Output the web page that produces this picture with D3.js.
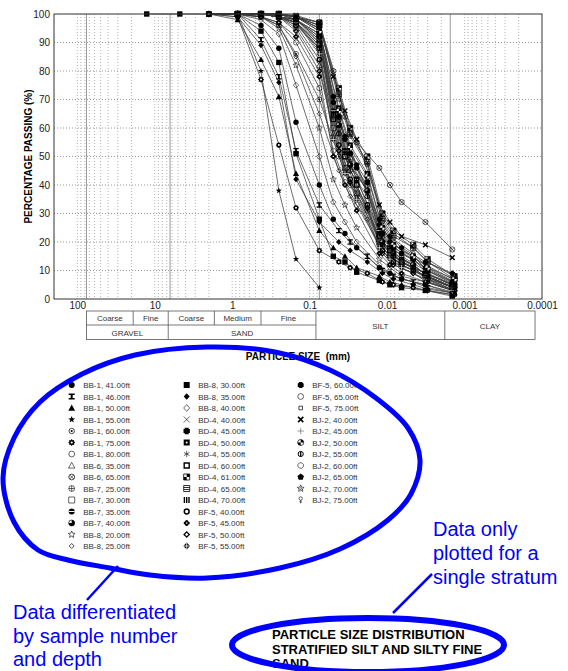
<!DOCTYPE html>
<html>
<head>
<meta charset="utf-8">
<script src="https://cdn.jsdelivr.net/npm/d3@7"></script>
<style>
body { margin: 0; background: #fff; }
text { font-family: "Liberation Sans", Arial, Helvetica, sans-serif; }
</style>
</head>
<body>
<script>
// ---- data ----
var sieveSizes = [12.7, 4.75, 2.0, 0.85, 0.425, 0.25, 0.15, 0.075];
var hydroSizesA = [0.0495, 0.035, 0.0247, 0.0126, 0.0092, 0.0065, 0.0032, 0.00144];
var hydroSizesB = [0.042, 0.030, 0.018, 0.0115, 0.0083, 0.0046, 0.0030, 0.00135];

var sampleNames = [
  "BB-1, 41.00ft", "BB-1, 46.00ft", "BB-1, 50.00ft", "BB-1, 55.00ft", "BB-1, 60.00ft",
  "BB-1, 75.00ft", "BB-1, 80.00ft", "BB-6, 35.00ft", "BB-6, 65.00ft", "BB-7, 25.00ft",
  "BB-7, 30.00ft", "BB-7, 35.00ft", "BB-7, 40.00ft", "BB-8, 20.00ft", "BB-8, 25.00ft",
  "BB-8, 30.00ft", "BB-8, 35.00ft", "BB-8, 40.00ft", "BD-4, 40.00ft", "BD-4, 45.00ft",
  "BD-4, 50.00ft", "BD-4, 55.00ft", "BD-4, 60.00ft", "BD-4, 61.00ft", "BD-4, 65.00ft",
  "BD-4, 70.00ft", "BF-5, 40.00ft", "BF-5, 45.00ft", "BF-5, 50.00ft", "BF-5, 55.00ft",
  "BF-5, 60.00ft", "BF-5, 65.00ft", "BF-5, 75.00ft", "BJ-2, 40.00ft", "BJ-2, 45.00ft",
  "BJ-2, 50.00ft", "BJ-2, 55.00ft", "BJ-2, 60.00ft", "BJ-2, 65.00ft", "BJ-2, 70.00ft",
  "BJ-2, 75.00ft"
];

var sampleSymbols = [
  "circleFill", "hourglass", "triangleFill", "starFill", "circleDot",
  "gear", "circleOpen", "triangleOpen", "circleX", "circlePlus",
  "squareOpen", "circleBar", "circlePie", "starOpen", "diamondSmall",
  "squareFill", "diamondFill", "diamondOpen", "xThin", "squareNotch",
  "squareDot", "asterisk", "squareBold", "squareChecker", "squareLines",
  "squareBars", "ring", "flowerFill", "diamondBold", "diamondCross",
  "octFill", "circleOpen", "squareTiny", "xBold", "plusThin",
  "circleQuarters", "circleI", "octOpen", "pentFill", "starCircle",
  "female"
];

// % passing at sieveSizes (null = not tested)
var sievePassing = [
  [null, null, 100, 100, 96, 88, 62, 40],
  [null, null, 100, 100, 91, 78, 52, 33],
  [null, null, 100, 98, 84, 71, 44, 24],
  [null, null, 100, 100, 80, 38, 14, 4],
  [null, null, 100, 100, 99, 96, 86, 70],
  [null, null, 100, 99, 77, 54, 32, 17],
  [null, null, 100, 100, 99, 97, 90, 74],
  [null, null, null, 100, 100, 99, 95, 82],
  [null, null, null, 100, 100, 100, 99, 97],
  [null, null, null, 100, 100, 99, 97, 90],
  [null, null, null, 100, 100, 99, 96, 88],
  [null, null, null, 100, 100, 100, 98, 93],
  [null, null, null, 100, 100, 99, 97, 89],
  [null, null, 100, 100, 99, 95, 82, 60],
  [null, null, 100, 100, 99, 96, 85, 65],
  [100, 100, 100, 100, 94, 83, 51, 28],
  [null, null, 100, 99, 89, 76, 42, 27],
  [null, null, 100, 100, 98, 93, 75, 50],
  [null, null, null, 100, 100, 100, 99, 95],
  [null, null, null, 100, 100, 99, 98, 92],
  [null, null, null, 100, 100, 100, 99, 94],
  [null, null, null, 100, 100, 99, 97, 87],
  [null, null, null, 100, 100, 100, 98, 91],
  [null, null, null, 100, 100, 100, 99, 97],
  [null, null, null, 100, 100, 100, 99, 96],
  [null, null, null, 100, 100, 99, 98, 93],
  [null, null, 100, 100, 100, 99, 96, 84],
  [null, null, 100, 100, 99, 97, 92, 78],
  [null, null, 100, 100, 100, 99, 94, 80],
  [null, null, null, 100, 100, 99, 97, 86],
  [null, null, null, 100, 100, 100, 99, 95],
  [null, null, null, 100, 100, 99, 97, 89],
  [null, null, null, 100, 100, 100, 99, 96],
  [null, null, null, 100, 100, 100, 99.5, 97],
  [null, null, null, 100, 100, 99, 98, 91],
  [null, null, null, 100, 100, 100, 99, 94],
  [null, null, null, 100, 100, 99, 97, 88],
  [null, null, null, 100, 100, 100, 98, 92],
  [null, null, null, 100, 100, 100, 99, 95],
  [null, null, null, 100, 100, 99, 98, 90],
  [null, null, null, 100, 100, 100, 99, 96]
];

// hydrometer set used by each sample
var hydroSet = [
  "A", "B", "A", "-", "B", "B", "A", "A", "A", "B",
  "A", "A", "B", "A", "B", "A", "B", "A", "A", "B",
  "B", "A", "A", "B", "B", "A", "B", "A", "B", "A",
  "A", "B", "B", "A", "A", "B", "B", "A", "A", "B",
  "B"
];

// % passing at the hydrometer sizes
var hydroPassing = [
  [28, 23, 18, 11, 9, 7, 5, 2],
  [24, 20, 15, 10, 8, 6, 4, 2],
  [18, 15, 11, 8, 6, 5, 3, 1.5],
  [],
  [50, 40, 31, 18, 14, 11, 7, 4],
  [13, 11, 9, 6, 5, 4, 3, 1.5],
  [52, 41, 33, 19, 15, 12, 8, 4],
  [58, 46, 37, 21, 16, 13, 9, 5],
  [80, 64, 55, 46, 40, 34, 27, 17.4],
  [63, 49, 40, 22, 17, 14, 9, 5],
  [60, 46, 37, 20, 15, 12, 8, 4],
  [66, 52, 42, 24, 19, 15, 10, 6],
  [61, 47, 38, 20, 16, 12, 8, 4],
  [42, 33, 25, 14, 11, 8, 6, 3],
  [45, 36, 28, 16, 12, 9, 6, 3],
  [15, 13, 9.4, 6.5, 5, 4, 3, 1],
  [20, 17, 13, 9, 7, 5, 3.5, 2],
  [34, 27, 20, 12, 9, 7, 5, 2.5],
  [70, 57, 47, 27, 21, 17, 12, 7],
  [64, 51, 41, 23, 18, 14, 10, 5],
  [67, 54, 44, 25, 19, 15, 10, 6],
  [57, 45, 36, 19, 15, 12, 8, 4],
  [63, 50, 40, 22, 17, 13, 9, 5],
  [74, 60, 50, 30, 24, 19, 14, 8],
  [72, 58, 48, 28, 22, 18, 13, 7],
  [65, 52, 42, 23, 18, 14, 9, 5],
  [54, 42, 33, 17, 13, 10, 7, 3],
  [50, 40, 31, 16, 12, 9, 6, 3],
  [52, 41, 32, 16, 12, 9, 6, 3],
  [56, 44, 35, 18, 14, 11, 7, 3],
  [69, 56, 46, 26, 20, 16, 11, 6],
  [60, 47, 38, 20, 15, 12, 8, 4],
  [70, 57, 47, 27, 21, 16, 11, 6],
  [78, 66, 56, 33, 27, 22, 19, 14.5],
  [62, 48, 39, 21, 16, 13, 8, 4],
  [66, 53, 43, 25, 19, 15, 11, 7],
  [58, 45, 36, 19, 15, 11, 7, 3],
  [64, 50, 40, 22, 17, 13, 9, 5],
  [71, 57, 47, 28, 22, 18, 13, 9],
  [61, 48, 38, 20, 16, 12, 8, 4],
  [72, 58, 48, 29, 23, 18, 13, 8]
];

var yTicks = [0, 10, 20, 30, 40, 50, 60, 70, 80, 90, 100];
var xTicks = [100, 10, 1, 0.1, 0.01, 0.001, 0.0001];
var xTickLabels = ["100", "10", "1", "0.1", "0.01", "0.001", "0.0001"];
var boundarySizes = [76.2, 6.35, 0.075, 0.00153];

// soil classification strip
var tableEdges = [76.2, 19, 6.7, 1.7, 0.425, 0.083, 0.0018, 0.000123];
var tableTopLabels = ["Coarse", "Fine", "Coarse", "Medium", "Fine"];
var tableGroupLabels = ["GRAVEL", "SAND"];
var tableFineLabels = ["SILT", "CLAY"];

// ---- drawing ----
var w = 568, h = 671;

var svg = d3.select("body").append("svg")
    .attr("width", w)
    .attr("height", h)
    .style("background-color", "#fff");

var x = d3.scaleLog().domain([200, 0.0001]).range([54, 542]);
var y = d3.scaleLinear().domain([0, 100]).range([299, 14]);

// minor log grid
var minor = [];
for (var k = -4; k <= 2; k++) {
  for (var m = 1; m <= 9; m++) {
    var v = m * Math.pow(10, k);
    if (v > 0.0001 && v < 200) minor.push(v);
  }
}
svg.append("g").selectAll("line").data(minor).enter().append("line")
    .attr("x1", function(d) { return x(d); })
    .attr("x2", function(d) { return x(d); })
    .attr("y1", y(100)).attr("y2", y(0))
    .style("stroke", "#b4b4b4")
    .style("stroke-width", 1)
    .style("stroke-dasharray", "1,2");

svg.append("g").selectAll("line").data(yTicks.slice(1, -1)).enter().append("line")
    .attr("x1", x(200)).attr("x2", x(0.0001))
    .attr("y1", function(d) { return y(d); })
    .attr("y2", function(d) { return y(d); })
    .style("stroke", "#999")
    .style("stroke-width", 1)
    .style("stroke-dasharray", "1,2");

svg.append("g").selectAll("line").data(boundarySizes).enter().append("line")
    .attr("x1", function(d) { return x(d); })
    .attr("x2", function(d) { return x(d); })
    .attr("y1", y(100)).attr("y2", y(0))
    .style("stroke", "#999")
    .style("stroke-width", 1);

// axes (labels only)
var yAxis = svg.append("g")
    .attr("transform", "translate(" + x(200) + ",0)")
    .call(d3.axisLeft(y).tickValues(yTicks).tickSize(0).tickPadding(4));
yAxis.select(".domain").remove();
yAxis.selectAll("text").style("font-size", "10px").style("fill", "#222")
    .style("font-family", "'Liberation Sans', Arial, sans-serif");

var xAxis = svg.append("g")
    .attr("transform", "translate(0," + y(0) + ")")
    .call(d3.axisBottom(x).tickValues(xTicks).tickSize(0).tickPadding(3)
      .tickFormat(function(d, i) { return xTickLabels[i]; }));
xAxis.select(".domain").remove();
xAxis.selectAll("text").style("font-size", "10px").style("fill", "#222")
    .style("font-family", "'Liberation Sans', Arial, sans-serif");

svg.append("text")
    .attr("transform", "translate(32," + ((y(0) + y(100)) / 2) + ") rotate(-90)")
    .attr("text-anchor", "middle")
    .style("font-size", "10px").style("font-weight", "bold")
    .text("PERCENTAGE PASSING (%)");

// marker shapes
function poly(n, r, rot) {
  var pts = [];
  for (var i = 0; i < n; i++) {
    var a = rot + i * 2 * Math.PI / n;
    pts.push((r * Math.sin(a)).toFixed(2) + "," + (-r * Math.cos(a)).toFixed(2));
  }
  return "M" + pts.join("L") + "Z";
}
function starPoly(n, r1, r2) {
  var pts = [];
  for (var i = 0; i < 2 * n; i++) {
    var a = i * Math.PI / n, r = i % 2 ? r2 : r1;
    pts.push((r * Math.sin(a)).toFixed(2) + "," + (-r * Math.cos(a)).toFixed(2));
  }
  return "M" + pts.join("L") + "Z";
}

function drawMarker(g, type) {
  var K = "#000", W = "#fff";
  function c(r, f, s, sw, cy) {
    return g.append("circle").attr("r", r).attr("cy", cy || 0).style("fill", f)
      .style("stroke", s || "none").style("stroke-width", sw || 0);
  }
  function p(d, f, s, sw) {
    return g.append("path").attr("d", d).style("fill", f)
      .style("stroke", s || "none").style("stroke-width", sw || 0);
  }
  var sq = "M-3,-3H3V3H-3Z";
  switch (type) {
    case "circleFill": c(3, K); break;
    case "hourglass": p("M-3,-3H3V-1.6H1V1.6H3V3H-3V1.6H-1V-1.6H-3Z", K); break;
    case "triangleFill": p("M0,-3.4L3.4,2.8H-3.4Z", K); break;
    case "starFill": p(starPoly(5, 3.6, 1.5), K); break;
    case "circleDot": c(2.7, "none", K, 0.7); c(1, K); break;
    case "gear": p(starPoly(8, 3.5, 2.5), K); c(1.1, W); break;
    case "circleOpen": c(2.9, "none", K, 0.6); break;
    case "triangleOpen": p("M0,-3.2L3.2,2.6H-3.2Z", "none", K, 0.6); break;
    case "circleX": c(2.9, "none", K, 0.7); p("M-2,-2L2,2M2,-2L-2,2", "none", K, 0.6); break;
    case "circlePlus": c(2.9, "none", K, 0.6); p("M-2.9,0H2.9M0,-2.9V2.9", "none", K, 0.6); break;
    case "squareOpen": p(sq, "none", K, 0.6); break;
    case "circleBar": c(3, K); p("M-3,0H3", "none", W, 1); break;
    case "circlePie": c(3, K); p("M0,0V-3A3,3 0 0 0 -3,0Z", W); c(3, "none", K, 0.6); break;
    case "starOpen": p(starPoly(5, 3.6, 1.6), "none", K, 0.6); break;
    case "diamondSmall": p("M0,-2.5L2.5,0L0,2.5L-2.5,0Z", "none", K, 0.7); break;
    case "squareFill": p(sq, K); break;
    case "diamondFill": p("M0,-3.3L3,0L0,3.3L-3,0Z", K); break;
    case "diamondOpen": p("M0,-3.3L3,0L0,3.3L-3,0Z", "none", K, 0.6); break;
    case "xThin": p("M-3,-3L3,3M3,-3L-3,3", "none", K, 0.6); break;
    case "squareNotch": p("M-2,-3.2H2V-2H3.2V2H2V3.2H-2V2H-3.2V-2H-2Z", K); break;
    case "squareDot": p(sq, K); c(1, W); break;
    case "asterisk": p("M0,-3.2V3.2M-2.8,-1.6L2.8,1.6M2.8,-1.6L-2.8,1.6", "none", K, 0.6); break;
    case "squareBold": p("M-2.5,-2.5H2.5V2.5H-2.5Z", "none", K, 1.4); break;
    case "squareChecker": p(sq, "none", K, 0.8); p("M0,-3H3V0H0ZM-3,0H0V3H-3Z", K); break;
    case "squareLines": p(sq, "none", K, 0.8); p("M-3,-1H3M-3,1H3", "none", K, 0.8); break;
    case "squareBars": p("M-3,-3H-1.6V3H-3ZM-0.7,-3H0.7V3H-0.7ZM1.6,-3H3V3H1.6Z", K); break;
    case "ring": c(2.4, "none", K, 1.5); break;
    case "flowerFill":
      c(1.6, K, null, 0, -1.5); c(1.6, K, null, 0, 1.5);
      g.append("circle").attr("r", 1.6).attr("cx", -1.5).style("fill", K);
      g.append("circle").attr("r", 1.6).attr("cx", 1.5).style("fill", K);
      c(0.8, W); break;
    case "diamondBold": p("M0,-2.6L2.6,0L0,2.6L-2.6,0Z", "none", K, 1.3); break;
    case "diamondCross": p("M0,-3.4L3.4,0L0,3.4L-3.4,0Z", K); p("M0,-3.4V3.4M-3.4,0H3.4", "none", W, 0.8); break;
    case "octFill": p(poly(8, 3.2, Math.PI / 8), K); break;
    case "squareTiny": p("M-1.8,-1.8H1.8V1.8H-1.8Z", "none", K, 0.7); break;
    case "xBold": p("M-2.6,-2.6L2.6,2.6M2.6,-2.6L-2.6,2.6", "none", K, 1.6); break;
    case "plusThin": p("M-3.2,0H3.2M0,-3.2V3.2", "none", "#555", 0.6); break;
    case "circleQuarters": c(3, K); p("M0,0H3A3,3 0 0 1 0,3ZM0,0H-3A3,3 0 0 1 0,-3Z", W); c(3, "none", K, 0.6); break;
    case "circleI": c(2.6, "none", K, 1); p("M0,-2.6V2.6", "none", K, 1.3); break;
    case "octOpen": p(poly(8, 2.9, Math.PI / 8), "none", K, 0.6); break;
    case "pentFill": p(poly(5, 3.4, 0), K); break;
    case "starCircle": p(starPoly(5, 3.6, 1.7), "none", K, 0.6); c(0.9, "none", K, 0.5); break;
    case "female": c(1.7, "none", K, 0.6, -1.5); p("M0,0.2V3.4M-1.3,1.9H1.3", "none", K, 0.6); break;
  }
}

// build point lists per sample
var series = sampleNames.map(function(name, i) {
  var pts = [];
  sievePassing[i].forEach(function(v, j) {
    if (v !== null) pts.push({ size: sieveSizes[j], p: v });
  });
  var hs = hydroSet[i] === "A" ? hydroSizesA : hydroSizesB;
  hydroPassing[i].forEach(function(v, j) {
    pts.push({ size: hs[j], p: v });
  });
  return { name: name, symbol: sampleSymbols[i], points: pts };
});

var line = d3.line()
    .x(function(d) { return x(d.size); })
    .y(function(d) { return y(d.p); });

var curves = svg.append("g");
curves.selectAll("path").data(series).enter().append("path")
    .attr("d", function(d) { return line(d.points); })
    .style("fill", "none")
    .style("stroke", "#3c3c3c")
    .style("stroke-width", 0.75);

var markerGroups = svg.append("g").selectAll("g.s").data(series).enter().append("g").attr("class", "s");
markerGroups.each(function(s) {
  var sg = d3.select(this);
  s.points.forEach(function(pt) {
    var mg = sg.append("g")
      .attr("transform", "translate(" + x(pt.size) + "," + y(pt.p) + ") scale(0.9)");
    drawMarker(mg, s.symbol);
  });
});

// plot frame
svg.append("rect")
    .attr("x", x(200)).attr("y", y(100))
    .attr("width", x(0.0001) - x(200)).attr("height", y(0) - y(100))
    .style("fill", "none").style("stroke", "#333").style("stroke-width", 1);

// classification table
var tTop = 311, tMid = 325, tBot = 339.5;
var tab = svg.append("g").style("stroke", "#555").style("stroke-width", 0.8);
tab.append("rect")
    .attr("x", x(tableEdges[0])).attr("y", tTop)
    .attr("width", x(tableEdges[7]) - x(tableEdges[0])).attr("height", tBot - tTop)
    .style("fill", "none");
tab.append("line")
    .attr("x1", x(tableEdges[0])).attr("x2", x(tableEdges[5]))
    .attr("y1", tMid).attr("y2", tMid);
[1, 3, 4].forEach(function(i) {
  tab.append("line").attr("x1", x(tableEdges[i])).attr("x2", x(tableEdges[i]))
    .attr("y1", tTop).attr("y2", tMid);
});
[2, 5, 6].forEach(function(i) {
  tab.append("line").attr("x1", x(tableEdges[i])).attr("x2", x(tableEdges[i]))
    .attr("y1", tTop).attr("y2", tBot);
});
function cellText(a, b, ty, label) {
  svg.append("text")
    .attr("x", (x(tableEdges[a]) + x(tableEdges[b])) / 2)
    .attr("y", ty)
    .attr("text-anchor", "middle")
    .style("font-size", "8px").style("fill", "#333")
    .text(label);
}
tableTopLabels.forEach(function(l, i) { cellText(i, i + 1, 321, l); });
cellText(0, 2, 336, tableGroupLabels[0]);
cellText(2, 5, 336, tableGroupLabels[1]);
cellText(5, 6, 328.5, tableFineLabels[0]);
cellText(6, 7, 328.5, tableFineLabels[1]);

svg.append("text")
    .attr("x", (x(200) + x(0.0001)) / 2).attr("y", 360)
    .attr("text-anchor", "middle")
    .style("font-size", "10px").style("font-weight", "bold")
    .style("white-space", "pre")
    .text("PARTICLE SIZE  (mm)");

// legend
var legendCols = [{ x: 71.7, start: 0, n: 15 }, { x: 186.7, start: 15, n: 15 }, { x: 300.7, start: 30, n: 11 }];
var legendTop = 385, legendStep = 11.5;
var legend = svg.append("g");
legendCols.forEach(function(col) {
  for (var r = 0; r < col.n; r++) {
    var s = series[col.start + r];
    var ly = legendTop + r * legendStep;
    drawMarker(legend.append("g").attr("transform", "translate(" + col.x + "," + ly + ")"), s.symbol);
    legend.append("text")
      .attr("x", col.x + 11.5).attr("y", ly + 3)
      .style("font-size", "8px").style("fill", "#333")
      .text(s.name);
  }
});

// title block
var titleLines = ["PARTICLE SIZE DISTRIBUTION", "STRATIFIED SILT AND SILTY FINE", "SAND"];
svg.append("g").selectAll("text").data(titleLines).enter().append("text")
    .attr("x", 272)
    .attr("y", function(d, i) { return 639 + i * 14.5; })
    .style("font-size", "13px").style("font-weight", "bold").style("fill", "#000")
    .text(function(d) { return d; });

// blue hand-drawn annotations
var blue = "#0000ff";
var notesLeft = ["Data differentiated", "by sample number", "and depth"];
var notesRight = ["Data only", "plotted for a", "single stratum"];
var loopPts = [[3, 478], [14, 438], [40, 402], [82, 374], [135, 355], [207, 347], [275, 352],
  [330, 370], [376, 398], [408, 428], [420, 460], [411, 494], [388, 520], [340, 549],
  [280, 568], [207, 578], [150, 575], [110, 568], [68, 560], [38, 550], [14, 522]];
var ann = svg.append("g");
ann.append("path")
    .attr("d", d3.line().curve(d3.curveCatmullRomClosed)(loopPts))
    .style("fill", "none").style("stroke", blue).style("stroke-width", 5);
ann.append("ellipse")
    .attr("cx", 368).attr("cy", 645).attr("rx", 136).attr("ry", 27)
    .style("fill", "none").style("stroke", blue).style("stroke-width", 6);
ann.append("line").attr("x1", 118).attr("y1", 566).attr("x2", 87).attr("y2", 600)
    .style("stroke", blue).style("stroke-width", 2.5);
ann.append("line").attr("x1", 432).attr("y1", 574).attr("x2", 393).attr("y2", 613)
    .style("stroke", blue).style("stroke-width", 2.5);
ann.selectAll("text.l").data(notesLeft).enter().append("text").attr("class", "l")
    .attr("x", 13).attr("y", function(d, i) { return 619 + i * 23.5; })
    .style("font-size", "20px").style("fill", blue)
    .text(function(d) { return d; });
ann.selectAll("text.r").data(notesRight).enter().append("text").attr("class", "r")
    .attr("x", 433).attr("y", function(d, i) { return 536 + i * 24; })
    .style("font-size", "20px").style("fill", blue)
    .text(function(d) { return d; });
</script>
</body>
</html>
